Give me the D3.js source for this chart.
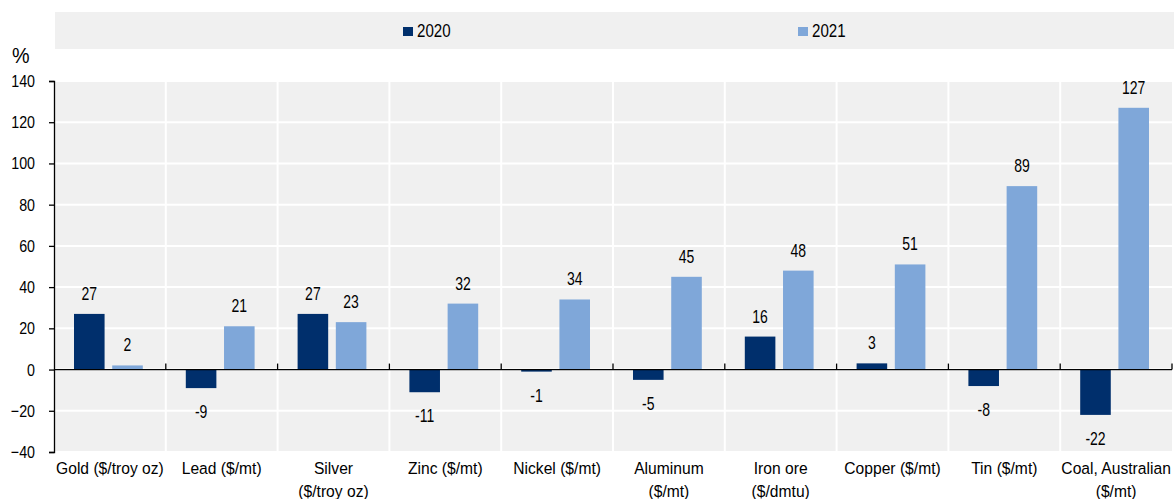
<!DOCTYPE html>
<html>
<head>
<meta charset="utf-8">
<script src="https://cdn.jsdelivr.net/npm/d3@7"></script>
<style>
  body { margin: 0; background: #fff; }
  svg { font-family: "Liberation Sans", Arial, sans-serif; }
</style>
</head>
<body>
<svg id="chart" width="1174" height="499"></svg>
<script>
var categories = ["Gold ($/troy oz)", "Lead ($/mt)", "Silver|($/troy oz)", "Zinc ($/mt)", "Nickel ($/mt)",
                  "Aluminum|($/mt)", "Iron ore|($/dmtu)", "Copper ($/mt)", "Tin ($/mt)", "Coal, Australian|($/mt)"];
var series = ["2020", "2021"];
var values2020 = [27, -9, 27, -11, -1, -5, 16, 3, -8, -22];
var values2021 = [2, 21, 23, 32, 34, 45, 48, 51, 89, 127];
var yTicks = [-40, -20, 0, 20, 40, 60, 80, 100, 120, 140];

var colors = { "2020": "#002f6c", "2021": "#7fa7d9" };
var SX = 0.84;   // squeeze text a bit, the original font is narrower

var svg = d3.select("#chart");
var plotLeft = 54, plotRight = 1172, plotTop = 81, plotBottom = 452;

// text placed at (px,py) and squeezed horizontally
function label(parent, px, py, size, sx) {
  return parent.append("text")
    .attr("transform", "translate(" + px + "," + py + ") scale(" + sx + ",1)")
    .attr("font-size", size).attr("fill", "#000");
}

var rows = categories.map(function(c, i) {
  return { cat: c, i: i, vals: [{ s: "2020", v: values2020[i] }, { s: "2021", v: values2021[i] }] };
});

var x = d3.scaleBand().domain(d3.range(categories.length)).range([plotLeft, plotRight]);
var xs = d3.scaleBand().domain(series).range([20, x.bandwidth() - 23]).paddingInner(0.2);
var y = d3.scaleLinear().domain([-40, 140]).range([plotBottom, plotTop]);

// legend band
svg.append("rect").attr("x", 55).attr("y", 12).attr("width", 1119).attr("height", 37).attr("fill", "#f0f0f0");
var legendPos = { "2020": 403, "2021": 798 };
series.forEach(function(s) {
  svg.append("rect").attr("x", legendPos[s]).attr("y", 27).attr("width", 10).attr("height", 9).attr("fill", colors[s]);
  label(svg, legendPos[s] + 14, 37, 18, SX).text(s);
});

// plot background
svg.append("rect").attr("x", plotLeft).attr("y", plotTop).attr("width", plotRight - plotLeft)
   .attr("height", plotBottom - plotTop).attr("fill", "#f0f0f0");

// horizontal grid
svg.append("g").selectAll("line").data(yTicks).enter().append("line")
   .attr("x1", plotLeft).attr("x2", plotRight)
   .attr("y1", function(d) { return y(d); }).attr("y2", function(d) { return y(d); })
   .attr("stroke", "#fff").attr("stroke-width", 2);

// vertical grid between categories
svg.append("g").selectAll("line").data(d3.range(1, categories.length)).enter().append("line")
   .attr("x1", function(d) { return x(d); }).attr("x2", function(d) { return x(d); })
   .attr("y1", plotTop).attr("y2", plotBottom)
   .attr("stroke", "#fff").attr("stroke-width", 2);

// bars
var groups = svg.append("g").selectAll("g").data(rows).enter().append("g")
   .attr("transform", function(d) { return "translate(" + x(d.i) + ",0)"; });

groups.selectAll("rect").data(function(d) { return d.vals; }).enter().append("rect")
   .attr("x", function(d) { return xs(d.s); })
   .attr("width", xs.bandwidth())
   .attr("y", function(d) { return y(Math.max(0, d.v)); })
   .attr("height", function(d) { return Math.abs(y(d.v) - y(0)); })
   .attr("fill", function(d) { return colors[d.s]; });

groups.each(function(r) {
  var g = d3.select(this);
  r.vals.forEach(function(d) {
    var py = d.v >= 0 ? y(d.v) - 14 : y(d.v) + 30;
    label(g, xs(d.s) + xs.bandwidth() / 2, py, 17.5, 0.8).attr("text-anchor", "middle").text(d.v);
  });
});

// zero line with category ticks
svg.append("line").attr("x1", plotLeft).attr("x2", plotRight).attr("y1", y(0)).attr("y2", y(0))
   .attr("stroke", "#000").attr("stroke-width", 1.3);
svg.append("g").selectAll("line").data(d3.range(1, categories.length + 1)).enter().append("line")
   .attr("x1", function(d) { return d < categories.length ? x(d) : plotRight; })
   .attr("x2", function(d) { return d < categories.length ? x(d) : plotRight; })
   .attr("y1", y(0) - 6).attr("y2", y(0))
   .attr("stroke", "#000").attr("stroke-width", 1.3);

// y axis
var yAxis = d3.axisLeft(y).tickValues(yTicks).tickSize(5).tickPadding(4);
var gy = svg.append("g").attr("transform", "translate(" + plotLeft + ",0)").call(yAxis);
gy.select(".domain").attr("stroke", "#000").attr("stroke-width", 1.3);
gy.selectAll(".tick line").attr("stroke", "#000").attr("stroke-width", 1.3);
gy.selectAll(".tick text").attr("font-size", 17).attr("fill", "#000")
  .attr("font-family", "'Liberation Sans', Arial, sans-serif")
  .attr("transform", "scale(" + SX + ",1)")
  .attr("x", -19 / SX);

label(svg, 12, 63, 22, 0.9).text("%");

// category labels
rows.forEach(function(d) {
  var cx = x(d.i) + x.bandwidth() / 2;
  var t = label(svg, cx, 474, 17, 0.92).attr("text-anchor", "middle");
  d.cat.split("|").forEach(function(p, k) {
    t.append("tspan").attr("x", 0).attr("dy", k === 0 ? 0 : 23).text(p);
  });
});
</script>
</body>
</html>
